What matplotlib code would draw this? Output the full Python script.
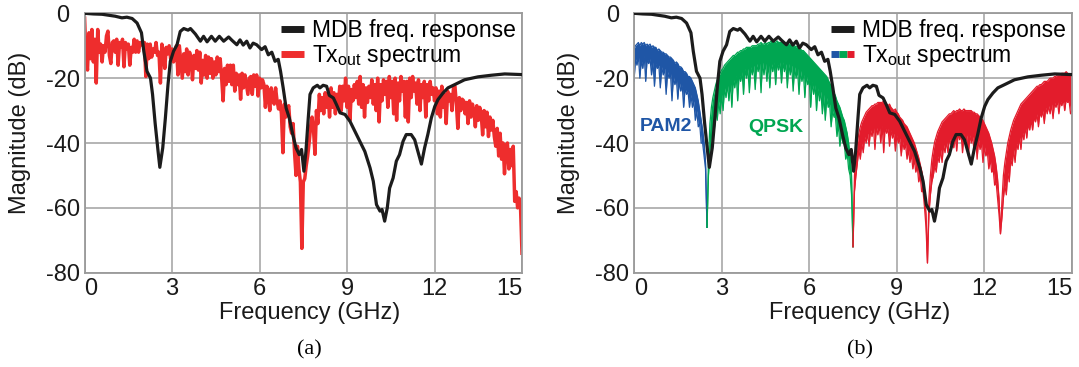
import numpy as np
import matplotlib
matplotlib.use("Agg")
import matplotlib.pyplot as plt
from matplotlib.lines import Line2D
from matplotlib.legend_handler import HandlerTuple

plt.rcParams["font.family"] = ["Liberation Sans", "DejaVu Sans"]
plt.rcParams["mathtext.fontset"] = "custom"
plt.rcParams["mathtext.rm"] = "Liberation Sans"
plt.rcParams["axes.unicode_minus"] = False

# MDB frequency response (same in both panels)
mdb_freq = [0.0, 0.3, 0.6, 1.05, 1.28, 1.45, 1.63, 1.8, 1.95, 2.03,
            2.14, 2.26, 2.33, 2.42, 2.52, 2.58, 2.68, 2.77, 2.86, 2.94,
            3.05, 3.17, 3.28, 3.4, 3.55, 3.63, 3.8, 3.97, 4.08, 4.2,
            4.35, 4.48, 4.62, 4.77, 4.94, 5.05, 5.22, 5.33, 5.44, 5.56,
            5.67, 5.78, 5.9, 6.07, 6.19, 6.3, 6.42, 6.53, 6.64, 6.72,
            6.81, 6.91, 7.02, 7.14, 7.25, 7.36, 7.44, 7.52, 7.59, 7.67,
            7.73, 7.84, 7.98, 8.07, 8.18, 8.3, 8.39, 8.53, 8.64, 8.76,
            8.93, 9.1, 9.27, 9.44, 9.61, 9.79, 9.9, 10.01, 10.13, 10.2,
            10.29, 10.38, 10.46, 10.58, 10.69, 10.8, 10.92, 11.03, 11.2, 11.32,
            11.43, 11.55, 11.66, 11.77, 11.89, 12.01, 12.12, 12.29, 12.46, 12.69,
            13.03, 13.49, 13.95, 14.41, 15.0]
mdb_db = [0.0, -0.2, -0.3, -0.9, -1.4, -1.2, -1.6, -3.0, -6.0, -11.7,
          -17.9, -20.0, -25.0, -34.0, -42.6, -47.5, -41.5, -32.3, -22.0, -14.8,
          -11.7, -9.7, -5.6, -4.7, -5.2, -4.7, -6.4, -8.6, -7.1, -8.8,
          -7.1, -8.6, -7.1, -8.6, -7.3, -8.3, -9.7, -8.2, -9.8, -8.6,
          -10.7, -9.2, -9.7, -11.2, -10.3, -12.8, -12.0, -14.8, -14.2, -17.9,
          -23.0, -29.2, -32.3, -37.4, -41.5, -43.6, -42.0, -48.7, -42.6, -32.3,
          -25.0, -23.0, -22.2, -23.0, -22.2, -22.5, -25.3, -26.1, -28.2, -30.7,
          -31.2, -33.3, -36.4, -39.5, -42.6, -47.7, -51.8, -59.0, -61.0, -60.5,
          -64.1, -60.0, -53.9, -50.8, -45.6, -43.6, -39.5, -37.4, -37.4, -39.0,
          -42.6, -46.5, -41.5, -37.4, -32.3, -28.7, -26.6, -24.6, -23.0, -22.0,
          -20.5, -19.6, -19.1, -18.7, -18.9]

# (a) Tx_out spectrum, 0..15 GHz in 0.05 GHz steps
tx_a_db = [
    -1.5, -14, -17.5, -6, -14, -5, -15, -8, -21.5, -5, -12, -9.5, -15, -10, -12, -7, -5.5, -13, -15.5, -9,
    -8.5, -12, -8, -16, -9, -10.5, -8, -16.5, -9, -11, -9.5, -16, -10.5, -12, -8, -12, -8.5, -12, -9, -9.5,
    -10, -9, -19.5, -9.5, -14, -9.5, -13.5, -11, -12, -9, -13, -12, -21.5, -9.5, -12, -17, -10.5, -12.5, -10, -14,
    -11, -15, -13.5, -10, -19, -10, -15, -20, -12.5, -18, -11, -19, -12, -14, -20.5, -13, -17, -11.5, -17.5, -12,
    -21.5, -14.5, -19, -13, -20, -13.5, -18.5, -14, -20, -15, -19, -13.5, -18, -14, -20, -27, -17, -22, -16, -21,
    -16, -22, -16, -24, -18.5, -22, -19, -26.5, -18.5, -23, -19, -22, -25, -20, -19.5, -25, -19, -22.5, -19, -25.5,
    -20, -23, -20.5, -22, -29, -22.5, -25, -30, -23, -26, -28, -23, -27, -29.5, -27, -31, -43, -28, -32, -30,
    -28.5, -35, -37, -34, -43, -50, -41, -48, -52, -72.5, -52, -51, -47, -44, -40, -35, -32, -36, -43.5, -30,
    -34, -25, -30, -26, -31, -24.5, -29, -25, -32, -23, -29, -24.5, -31, -25, -29, -22.5, -30, -22.5, -27, -20,
    -29, -22.5, -33, -23.5, -27, -22, -26, -21, -28, -19.5, -29, -22, -32, -23, -27.5, -22.5, -26, -20.5, -28, -22,
    -30, -20, -33.5, -22, -27, -20.5, -25, -21, -29, -19.5, -26, -21, -31, -20, -33, -21.5, -27, -19.5, -24, -21,
    -32, -21, -33.5, -20, -26, -19.5, -24, -21.5, -28, -20.5, -30, -22, -26, -21, -32, -22, -27, -21, -25, -23,
    -27, -23, -31, -24, -32, -22.5, -29, -25, -34, -24, -27, -25, -30, -23, -22.5, -28, -35.5, -26, -30, -26.5,
    -27, -31, -27.5, -34, -27, -32, -28, -30, -35, -28.5, -33, -29, -31, -37.5, -30, -35, -30.5, -38, -32, -36,
    -33, -38, -41, -35.5, -44, -37, -45, -40, -49.5, -41, -40, -48, -42, -47, -41, -58, -55, -60, -57, -60,
    -74]

# (b) PAM2 band, 0..2.5 GHz, 0.05 GHz steps (top and bottom of the dense trace)
pam2_top = [-11, -10, -9.5, -9, -10, -9, -9.5, -9, -10, -9.5,
            -10, -9.5, -10.5, -10, -10.5, -10.5, -11.5, -11, -11.5, -12,
            -12, -12.5, -12.5, -13, -13.5, -13.5, -14, -14.5, -15.5, -15,
            -15.5, -16.5, -16.5, -17, -18, -18, -18.5, -19.5, -19.5, -20,
            -21, -22, -23, -25, -27, -30, -33, -36, -40, -46, -66]
pam2_bot = [-21, -14, -16, -13, -20, -14.5, -17, -13, -21, -14,
            -15.5, -14, -19, -15, -22.5, -15.5, -17, -16, -23, -16.5,
            -19, -17, -25, -18, -20, -18.5, -27, -19.5, -22, -20,
            -26.5, -21, -24, -22, -29, -23, -25, -24, -29, -25,
            -29, -27, -33, -30, -35, -34, -40, -40, -44, -48, -66]

# (b) QPSK band, 2.5..7.5 GHz
qpsk_top = [-66, -45, -34, -29, -26, -24, -22, -20.5, -19.5, -18.5,
            -17.5, -17, -16, -15.5, -15, -14.5, -14, -13.5, -13, -13,
            -12.5, -12, -12, -11.5, -11.5, -11, -11, -10.5, -10.5, -10.5,
            -10.5, -10, -10, -10, -10, -9.5, -9.5, -9, -9.5, -9.5,
            -9, -9.5, -9, -9, -8.5, -9, -9, -9, -8.5, -9,
            -9, -9, -9, -9, -9.5, -9, -9.5, -9.5, -9.5, -10,
            -10, -10.5, -10, -11, -11, -11.5, -11.5, -12, -12.5, -13,
            -13.5, -14, -14.5, -15, -15.5, -16, -16.5, -17, -17.5, -18,
            -18.5, -19, -19.5, -20.5, -21.5, -22.5, -23.5, -24.5, -25.5, -27,
            -28, -29, -30.5, -32, -33, -35, -37, -40, -44, -50, -72]
qpsk_bot = [-66, -50, -42, -38, -34, -36, -30, -33, -27, -31,
            -25, -30, -23, -26, -22, -27, -21, -29, -20, -23,
            -19, -27, -18.5, -21, -18, -25, -17, -20, -17, -24.5,
            -16.5, -19, -16, -23.5, -15.5, -18, -15.5, -24.5, -15, -19,
            -15, -21, -15, -23, -15, -18, -15, -22, -15, -17.5,
            -15, -21.5, -15, -18, -15.5, -23, -15.5, -19, -16, -24,
            -16.5, -20, -17, -25, -17.5, -21, -18, -26, -19, -22,
            -20, -29, -21, -25, -22, -30, -23, -27, -24, -31,
            -25, -33, -26, -29, -28, -35, -30, -32, -32, -38,
            -34, -41, -37, -40, -40, -45, -43, -48, -50, -56, -72]

# (b) remaining band, 7.5..15 GHz
rest_top = [-72, -50, -44, -40, -37, -35, -33.5, -32.5, -31.5, -30.5,
            -30, -29.5, -29, -28.5, -28.5, -28, -28, -27.5, -27.5, -27.5,
            -27.5, -27, -28, -28, -28.5, -28, -29, -29.5, -30, -29.5,
            -30.5, -31, -32, -32.5, -33, -34, -34.5, -35, -36, -37,
            -38, -39, -40, -41.5, -43, -44.5, -46.5, -48.5, -51, -55,
            -62, -77, -57, -50, -45, -42, -39.5, -38, -36.5, -35.5,
            -34.5, -33.5, -33, -32.5, -32, -31.5, -31, -31, -30.5, -30,
            -30.5, -30, -30, -29.5, -30, -30, -29.5, -30, -30, -30,
            -30, -30, -30.5, -30.5, -31, -31, -31.5, -32, -32.5, -33,
            -34, -35, -36, -37, -38.5, -40, -42, -44, -47, -51,
            -57, -68, -58, -50, -46, -43, -40, -38, -36, -34.5,
            -33, -32, -31, -30, -29, -28, -27.5, -27, -26.5, -26,
            -25.5, -25, -24.5, -24, -23.5, -23, -22.5, -22.5, -22, -22,
            -21.5, -21, -21, -21, -20.5, -20, -20, -20, -19.5, -19.5,
            -19, -19, -19, -18.5, -18.5, -18.5, -18, -18.5, -19, -19, -20]
rest_bot = [-72, -55, -50, -46, -42, -45, -40, -43, -38, -40,
            -37, -41, -36, -38, -35, -42, -35, -37.5, -34.5, -40,
            -34.5, -43, -35, -37, -35.5, -41, -36, -38.5, -37, -42.5,
            -37.5, -40, -38.5, -44, -39.5, -42, -40.5, -45, -42, -46,
            -43.5, -48, -45, -49, -47, -52, -50, -55, -55, -60,
            -66, -77, -62, -56, -52, -50, -47, -49, -44, -46,
            -42, -46, -40.5, -43, -39.5, -43, -38.5, -40.5, -38, -41.5,
            -37.5, -42.5, -37, -39, -37, -43, -37, -40, -37.5, -44,
            -37.5, -40, -38, -43, -38.5, -45, -39, -42, -40, -46,
            -41, -44, -42.5, -48, -45, -49, -48, -53, -52, -57,
            -62, -68, -63, -57, -53, -56, -49, -52, -45, -47,
            -42, -46, -40, -42, -38, -42, -36.5, -39, -35, -38.5,
            -34, -36, -33, -36, -32, -33.5, -31, -35, -30.5, -32,
            -30, -34, -29, -31, -28.5, -31, -28, -32.5, -27.5, -29,
            -27, -31, -27, -28.5, -26.5, -30, -26.5, -27.5, -27, -31, -30]

BLACK = "#1c1c1c"
RED_A = "#ee2d2d"
BLUE = "#1f56a6"
GREEN = "#00a651"
RED_B = "#e31c2c"
GRID = "#a8a8a8"

f_a = np.linspace(0, 15, len(tx_a_db))
f_pam = np.linspace(0, 2.5, len(pam2_top))
f_qpsk = np.linspace(2.5, 7.5, len(qpsk_top))
f_rest = np.linspace(7.5, 15, len(rest_top))

fig = plt.figure(figsize=(10.79, 3.67), dpi=100)
W, H = 1079.0, 367.0
ax_a = fig.add_axes([84.6 / W, 1 - 272.7 / H, 437.4 / W, 259.4 / H])
ax_b = fig.add_axes([634.0 / W, 1 - 272.7 / H, 438.0 / W, 259.4 / H])


def style_axes(ax):
    ax.set_xlim(0, 15)
    ax.set_ylim(-80, 0)
    ax.set_xticks([0, 3, 6, 9, 12, 15])
    ax.set_yticks([-80, -60, -40, -20, 0])
    ax.grid(True, color=GRID, linewidth=1.2)
    ax.set_axisbelow(True)
    for sp in ax.spines.values():
        sp.set_color("#9a9a9a")
        sp.set_linewidth(1.3)
    ax.tick_params(length=0, labelsize=17, colors="#1a1a1a")
    ax.tick_params(axis="y", pad=15.5)
    ax.tick_params(axis="x", pad=3.5)
    for lab in ax.get_yticklabels():
        lab.set_horizontalalignment("center")
    ticks = ax.xaxis.get_major_ticks()
    ticks[0].label1.set_horizontalalignment("left")
    ticks[-1].label1.set_horizontalalignment("right")
    ax.set_xlabel("Frequency (GHz)", fontsize=17, color="#1a1a1a")
    ax.set_ylabel("Magnitude (dB)", fontsize=17, color="#1a1a1a")
    ax.xaxis.set_label_coords(0.515, -0.112)
    ax.yaxis.set_label_coords(-0.123, 0.54)


# panel (a)
style_axes(ax_a)
ax_a.plot(f_a, tx_a_db, color=RED_A, lw=2.5, zorder=2)
ax_a.plot(mdb_freq, mdb_db, color=BLACK, lw=2.3, zorder=3)
h_mdb = Line2D([], [], color=BLACK, lw=5, solid_capstyle="butt")
h_tx = Line2D([], [], color=RED_A, lw=5, solid_capstyle="butt")
ax_a.legend([h_mdb, h_tx], ["MDB freq. response", r"Tx$_{\mathrm{out}}$ spectrum"],
            loc="upper right", frameon=False, fontsize=16.5, handlelength=1.0,
            handletextpad=0.35, labelspacing=0.05, borderaxespad=0.1, borderpad=0.15)

# panel (b)
style_axes(ax_b)
for f, top, bot, c in [(f_pam, pam2_top, pam2_bot, BLUE),
                       (f_qpsk, qpsk_top, qpsk_bot, GREEN),
                       (f_rest, rest_top, rest_bot, RED_B)]:
    ax_b.fill_between(f, bot, top, color=c, linewidth=0, zorder=2)
    ax_b.plot(f, top, color=c, lw=0.9, zorder=2)
    ax_b.plot(f, bot, color=c, lw=0.9, zorder=2)
ax_b.plot(mdb_freq, mdb_db, color=BLACK, lw=2.3, zorder=3)
ax_b.text(1.11, -34.9, "PAM2", color=BLUE, fontsize=14, fontweight="bold",
          ha="center", va="center")
ax_b.text(4.86, -35.2, "QPSK", color=GREEN, fontsize=14, fontweight="bold",
          ha="center", va="center")
h_tri = tuple(Line2D([], [], color=c, lw=5, solid_capstyle="butt")
              for c in (BLUE, GREEN, RED_B))
ax_b.legend([h_mdb, h_tri], ["MDB freq. response", r"Tx$_{\mathrm{out}}$ spectrum"],
            handler_map={tuple: HandlerTuple(ndivide=None, pad=0)},
            loc="upper right", frameon=False, fontsize=16.5, handlelength=1.0,
            handletextpad=0.35, labelspacing=0.05, borderaxespad=0.1, borderpad=0.15)

fig.text(309 / W, 1 - 350 / H, "(a)", fontsize=16, family="Liberation Serif",
         ha="center", va="center")
fig.text(860 / W, 1 - 350 / H, "(b)", fontsize=16, family="Liberation Serif",
         ha="center", va="center")

fig.savefig("out.png", dpi=100)
